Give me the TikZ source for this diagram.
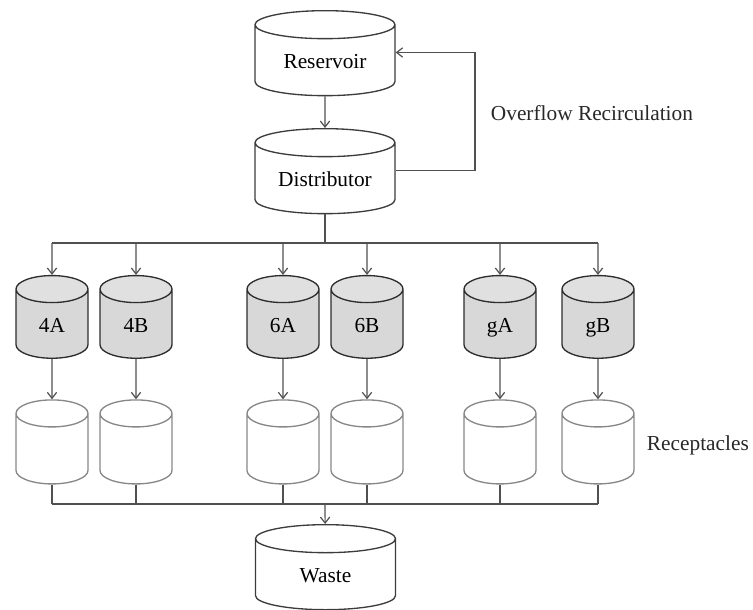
\documentclass[tikz,border=0pt]{standalone}
\usepackage{fontspec}
\setmainfont{Liberation Serif}
\usetikzlibrary{shapes.geometric,calc,arrows.meta}

\tikzset{every picture/.style={line width=0.75pt}}
\tikzset{
  tank/.style={cylinder, shape border rotate=90, draw={rgb,255:red,60;green,60;blue,60}, line width=1pt,
    text width=105pt, align=center, text height=12pt, text depth=0pt,
    minimum width=105pt, minimum height=63.75pt, aspect=0.2, inner sep=0pt, font=\fontsize{16}{18}\selectfont},
  column/.style={tank, text width=54pt, minimum width=54pt, minimum height=62pt, aspect=0.375,
    cylinder uses custom fill, cylinder body fill={rgb,255:red,216;green,216;blue,216},
    cylinder end fill={rgb,255:red,224;green,224;blue,224}, draw={rgb,255:red,45;green,45;blue,45}},
  cup/.style={tank, text width=54pt, minimum width=54pt, minimum height=63pt, aspect=0.375, draw={rgb,255:red,135;green,135;blue,135}},
  flow/.style={draw={rgb,255:red,80;green,80;blue,80}, line width=0.9pt},
  tip/.style={-{Straight Barb[length=4.5pt,width=7pt]}},
  note/.style={font=\fontsize{16}{18}\selectfont, text={rgb,255:red,40;green,40;blue,40}}
}

\begin{document}
\begin{tikzpicture}[x=0.75pt,y=0.75pt,yscale=-1,xscale=1]
\useasboundingbox (0,0) rectangle (753,610);

%Shape: Can [id:res]
\node[tank] (res) at (325,60.5) {Reservoir};
%Shape: Can [id:dist]
\node[tank] (dist) at (325,178.5) {Distributor};
%Shape: Can [id:waste]
\node[tank] (waste) at (325.5,574.5) {Waste};

%Columns and receptacles
\foreach \n/\x in {4A/52,4B/136,6A/283,6B/367,gA/500,gB/598}{
  \node[column] (c\n) at (\x,324) {\n};
  \node[cup] (r\n) at (\x,449) {};
}

%Straight Lines [id:split]
\coordinate (split) at (325,243);
\coordinate (merge) at (325,504);
\coordinate (loop) at (475,0);
\coordinate (resin) at ([yshift=-6pt]res.east);
\coordinate (distout) at ([yshift=-6pt]dist.east);
\draw[flow,tip] (res) -- (dist);
\draw[flow] (dist) -- (split);
\draw[flow] (split -| c4A) -- (split -| cgB);
\foreach \n in {4A,4B,6A,6B,gA,gB}{
  \draw[flow,tip] (split -| c\n) -- (c\n.north);
  \draw[flow,tip] (c\n) -- (r\n);
  \draw[flow] (r\n.south) -- (merge -| r\n);
}
\draw[flow] (merge -| r4A) -- (merge -| rgB);
\draw[flow,tip] (merge) -- (waste);

%Straight Lines [id:recirc]
\draw[flow,tip] (distout) -| (loop |- resin) -- (resin);

% Text Node
\node[note, anchor=west] (overflow) at (486,113) {Overflow Recirculation};
% Text Node
\node[note, anchor=west] (recept) at (642,445) {Receptacles};

\end{tikzpicture}
\end{document}
